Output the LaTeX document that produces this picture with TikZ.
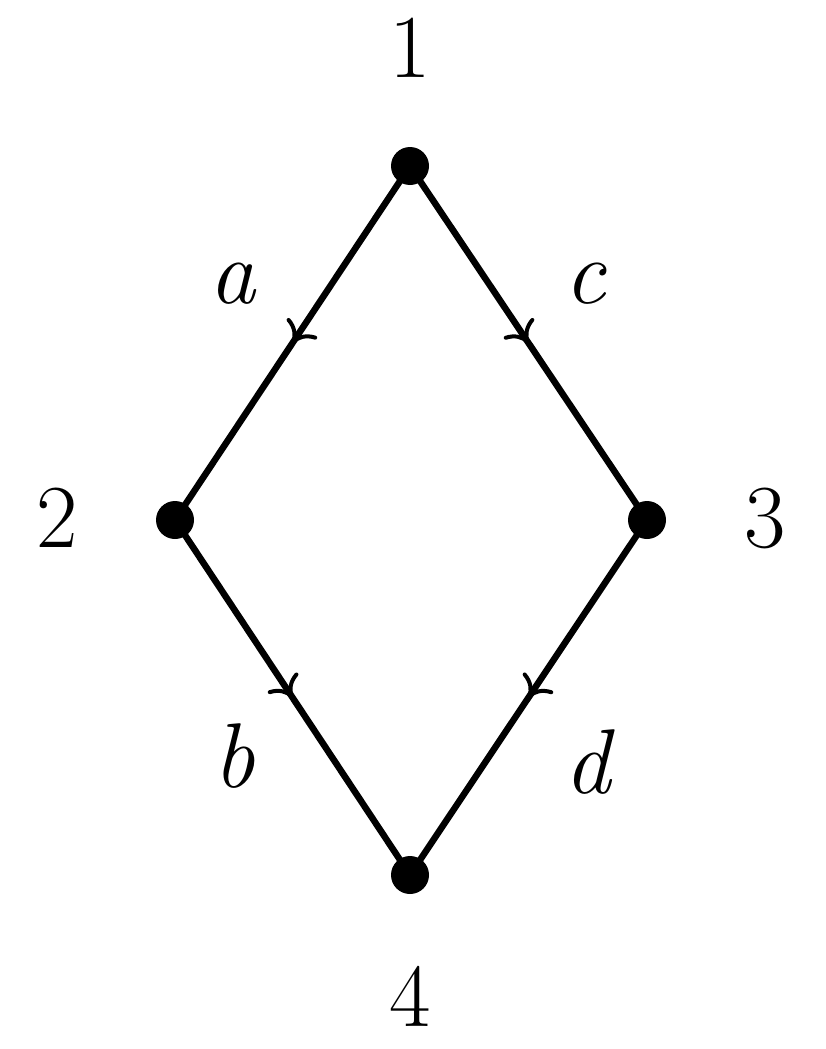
\documentclass[tikz,border=0pt]{standalone}
\usetikzlibrary{arrows.meta,decorations.markings}
\begin{document}
\begin{tikzpicture}[x=1pt,y=-1pt,
  vert/.style={circle,fill=black,inner sep=0pt,minimum size=38pt},
  num/.style={inner sep=0pt,font=\fontsize{90}{92}\selectfont},
  lab/.style={inner sep=0pt,font=\fontsize{92}{96}\selectfont\itshape},
  edge/.style={line width=6.5pt,postaction={decorate},
    decoration={markings,mark=at position 0.5 with {\arrow{Computer Modern Rightarrow[length=19pt,width=36pt,line width=4pt]}}}}]
\useasboundingbox (0,0) rectangle (825,1049);
\node[vert] (n1) at (410,166) {};
\node[vert] (n2) at (175,520) {};
\node[vert] (n3) at (647,520) {};
\node[vert] (n4) at (410,875) {};
\node[num] (l1) at (410,48) {1};
\node[num] (l2) at (57,518) {2};
\node[num] (l3) at (765,518) {3};
\node[num] (l4) at (410,996) {4};
\node[lab] (la) at (232,284) {a};
\node[lab] (lc) at (585,284) {c};
\node[lab] (lb) at (234,756) {b};
\node[lab] (ld) at (587,762) {d};
\draw[edge] (n1.center) -- (n2.center);
\draw[edge] (n1.center) -- (n3.center);
\draw[edge] (n2.center) -- (n4.center);
\draw[edge] (n3.center) -- (n4.center);
\end{tikzpicture}
\end{document}
